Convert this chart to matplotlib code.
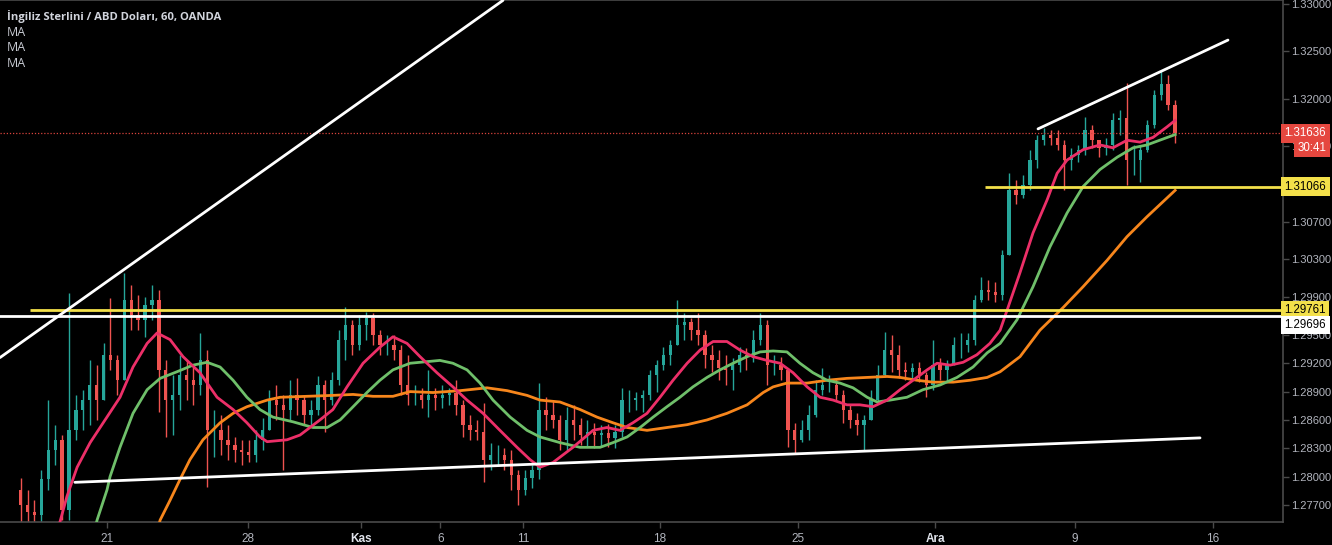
"""
    GBP/USD hourly chart (OANDA) with three moving averages and
    hand drawn support / resistance lines, TradingView dark look.
"""

import numpy as np
import matplotlib
matplotlib.use("Agg")
import matplotlib.pyplot as plt
import matplotlib.transforms as mtransforms


# ---------------- candles (6h bars, x in trading days, 0 = 21 Oct) ----------------
bar_step = 0.25
first_x = -3.125
first_open = 1.2786

highs = [
    1.2799, 1.2786, 1.2775, 1.2807, 1.2881, 1.2855, 1.2844, 1.2994,
    1.2886, 1.2892, 1.2923, 1.2918, 1.2941, 1.2989, 1.2929, 1.3016,
    1.3003, 1.2992, 1.2990, 1.3003, 1.2998, 1.2923, 1.2908, 1.2929,
    1.2923, 1.2918, 1.2952, 1.2934, 1.2871, 1.2865, 1.2855, 1.2842,
    1.2839, 1.2839, 1.2849, 1.2862, 1.2892, 1.2897, 1.2886, 1.2902,
    1.2904, 1.2886, 1.2881, 1.2907, 1.2902, 1.2911, 1.2955, 1.2979,
    1.2966, 1.2971, 1.2974, 1.2973, 1.2955, 1.2950, 1.2950, 1.2939,
    1.2929, 1.2897, 1.2894, 1.2913, 1.2894, 1.2897, 1.2894, 1.2902,
    1.2881, 1.2865, 1.2860, 1.2878, 1.2836, 1.2834, 1.2830, 1.2828,
    1.2807, 1.2807, 1.2812, 1.2899, 1.2884, 1.2881, 1.2865, 1.2874,
    1.2876, 1.2862, 1.2860, 1.2857, 1.2855, 1.2856, 1.2855, 1.2894,
    1.2892, 1.2890, 1.2892, 1.2913, 1.2923, 1.2937, 1.2945, 1.2987,
    1.2973, 1.2968, 1.2973, 1.2955, 1.2939, 1.2934, 1.2929, 1.2926,
    1.2937, 1.2936, 1.2955, 1.2973, 1.2966, 1.2929, 1.2927, 1.2913,
    1.2857, 1.2860, 1.2876, 1.2902, 1.2915, 1.2908, 1.2904, 1.2892,
    1.2876, 1.2867, 1.2865, 1.2892, 1.2918, 1.2953, 1.2950, 1.2939,
    1.2921, 1.2920, 1.2921, 1.2911, 1.2945, 1.2926, 1.2923, 1.2948,
    1.2952, 1.2952, 1.2992, 1.3011, 1.3008, 1.3006, 1.3040, 1.3121,
    1.3114, 1.3119, 1.3146, 1.3162, 1.3169, 1.3167, 1.3167, 1.3156,
    1.3148, 1.3151, 1.3181, 1.3172, 1.3156, 1.3158, 1.3185, 1.3188,
    1.3217, 1.3151, 1.3151, 1.3177, 1.3209, 1.3230, 1.3225, 1.3199,
]

lows = [
    1.2749, 1.2749, 1.2744, 1.2749, 1.2786, 1.2812, 1.2754, 1.2754,
    1.2839, 1.2849, 1.2855, 1.2860, 1.2881, 1.2913, 1.2886, 1.2902,
    1.2955, 1.2955, 1.2948, 1.2966, 1.2868, 1.2842, 1.2844, 1.2871,
    1.2881, 1.2876, 1.2886, 1.2789, 1.2821, 1.2823, 1.2818, 1.2815,
    1.2812, 1.2815, 1.2815, 1.2828, 1.2849, 1.2860, 1.2807, 1.2860,
    1.2865, 1.2855, 1.2855, 1.2865, 1.2847, 1.2876, 1.2897, 1.2923,
    1.2929, 1.2934, 1.2945, 1.2939, 1.2929, 1.2929, 1.2923, 1.2886,
    1.2876, 1.2876, 1.2873, 1.2863, 1.2871, 1.2873, 1.2876, 1.2865,
    1.2842, 1.2839, 1.2839, 1.2794, 1.2807, 1.2812, 1.2807, 1.2786,
    1.2770, 1.2781, 1.2788, 1.2797, 1.2849, 1.2852, 1.2828, 1.2828,
    1.2839, 1.2834, 1.2831, 1.2830, 1.2831, 1.2831, 1.2830, 1.2842,
    1.2868, 1.2871, 1.2868, 1.2881, 1.2890, 1.2913, 1.2918, 1.2939,
    1.2945, 1.2945, 1.2939, 1.2915, 1.2911, 1.2902, 1.2897, 1.2892,
    1.2911, 1.2913, 1.2921, 1.2939, 1.2897, 1.2908, 1.2902, 1.2831,
    1.2825, 1.2837, 1.2839, 1.2863, 1.2886, 1.2890, 1.2881, 1.2857,
    1.2852, 1.2844, 1.2828, 1.2860, 1.2878, 1.2905, 1.2911, 1.2904,
    1.2902, 1.2902, 1.2900, 1.2884, 1.2892, 1.2902, 1.2900, 1.2918,
    1.2926, 1.2932, 1.2939, 1.2985, 1.2987, 1.2985, 1.2987, 1.3035,
    1.3088, 1.3095, 1.3103, 1.3127, 1.3151, 1.3151, 1.3146, 1.3103,
    1.3125, 1.3133, 1.3140, 1.3148, 1.3138, 1.3140, 1.3146, 1.3162,
    1.3109, 1.3119, 1.3112, 1.3144, 1.3169, 1.3199, 1.3188, 1.3153,
]

closes = [
    1.2770, 1.2763, 1.2759, 1.2797, 1.2828, 1.2839, 1.2765, 1.2849,
    1.2871, 1.2881, 1.2897, 1.2881, 1.2929, 1.2923, 1.2902, 1.2987,
    1.2971, 1.2966, 1.2982, 1.2987, 1.2913, 1.2881, 1.2886, 1.2908,
    1.2902, 1.2897, 1.2923, 1.2849, 1.2849, 1.2839, 1.2834, 1.2828,
    1.2826, 1.2823, 1.2839, 1.2849, 1.2881, 1.2876, 1.2871, 1.2886,
    1.2881, 1.2865, 1.2871, 1.2897, 1.2881, 1.2902, 1.2945, 1.2961,
    1.2939, 1.2961, 1.2968, 1.2950, 1.2939, 1.2939, 1.2934, 1.2897,
    1.2886, 1.2886, 1.2881, 1.2886, 1.2883, 1.2886, 1.2889, 1.2876,
    1.2855, 1.2849, 1.2847, 1.2818, 1.2823, 1.2823, 1.2818, 1.2802,
    1.2786, 1.2799, 1.2807, 1.2871, 1.2865, 1.2860, 1.2839, 1.2860,
    1.2855, 1.2844, 1.2847, 1.2844, 1.2846, 1.2841, 1.2847, 1.2881,
    1.2881, 1.2883, 1.2886, 1.2908, 1.2918, 1.2929, 1.2939, 1.2961,
    1.2964, 1.2955, 1.2950, 1.2929, 1.2923, 1.2915, 1.2913, 1.2918,
    1.2929, 1.2926, 1.2945, 1.2961, 1.2918, 1.2918, 1.2913, 1.2849,
    1.2839, 1.2849, 1.2865, 1.2892, 1.2897, 1.2897, 1.2886, 1.2871,
    1.2860, 1.2855, 1.2860, 1.2881, 1.2908, 1.2934, 1.2929, 1.2913,
    1.2911, 1.2915, 1.2908, 1.2897, 1.2918, 1.2913, 1.2918, 1.2939,
    1.2939, 1.2945, 1.2987, 1.2998, 1.2995, 1.2992, 1.3035, 1.3103,
    1.3098, 1.3109, 1.3135, 1.3156, 1.3162, 1.3158, 1.3151, 1.3135,
    1.3140, 1.3146, 1.3167, 1.3156, 1.3148, 1.3151, 1.3177, 1.3180,
    1.3135, 1.3135, 1.3146, 1.3172, 1.3204, 1.3215, 1.3193, 1.31636,
]

# ---------------- moving averages ----------------
ma_fast_x = [-1.88, -1.45, -1.08, -0.61, -0.25, 0.47, 0.94, 1.45, 1.81, 2.28,
             2.75, 3.36, 3.98, 4.56, 5.06, 5.53, 5.79, 6.51, 6.98, 7.70,
             8.17, 8.68, 9.26, 9.87, 10.34, 10.85, 11.32, 11.93, 12.51, 13.02,
             13.60, 14.21, 14.83, 15.30, 15.66, 16.13, 16.85, 17.58, 18.08, 18.55,
             19.02, 19.53, 20.00, 20.47, 20.98, 21.45, 21.92, 22.42, 22.89, 23.36,
             23.87, 24.34, 24.81, 25.32, 25.79, 26.26, 26.76, 27.23, 27.70, 28.21,
             28.68, 29.15, 29.66, 30.02, 30.49, 30.96, 31.46, 31.93, 32.30, 32.55,
             33.02, 33.49, 34.00, 34.36, 34.72, 35.30, 35.91, 36.38, 36.89, 37.36,
             37.83, 38.33, 38.63]
ma_fast = [1.2733, 1.2779, 1.2810, 1.2836, 1.2852, 1.2884, 1.2916, 1.2941, 1.2952, 1.2945,
           1.2927, 1.2910, 1.2884, 1.2871, 1.2857, 1.2842, 1.2837, 1.2839, 1.2844, 1.2860,
           1.2871, 1.2895, 1.2920, 1.2937, 1.2948, 1.2941, 1.2927, 1.2910, 1.2895, 1.2881,
           1.2867, 1.2849, 1.2831, 1.2818, 1.2810, 1.2815, 1.2831, 1.2849, 1.2852, 1.2849,
           1.2857, 1.2867, 1.2884, 1.2902, 1.2920, 1.2934, 1.2943, 1.2943, 1.2934, 1.2927,
           1.2923, 1.2920, 1.2910, 1.2895, 1.2884, 1.2881, 1.2876, 1.2876, 1.2874, 1.2881,
           1.2892, 1.2902, 1.2913, 1.2920, 1.2918, 1.2921, 1.2929, 1.2941, 1.2955, 1.2976,
           1.3016, 1.3058, 1.3093, 1.3121, 1.3135, 1.3146, 1.3151, 1.3148, 1.3156, 1.3154,
           1.3159, 1.3170, 1.3177]

ma_mid_x = [-0.54, -0.36, 0.00, 0.11, 0.47, 0.94, 1.45, 1.92, 2.53, 3.11,
            3.62, 4.09, 4.56, 5.06, 5.53, 6.00, 6.73, 7.45, 7.96, 8.43,
            8.90, 9.40, 9.87, 10.34, 10.96, 11.68, 12.04, 12.51, 13.02, 13.49,
            13.96, 14.58, 15.19, 15.66, 16.38, 17.11, 17.83, 18.30, 18.81, 19.28,
            19.75, 20.25, 20.72, 21.19, 21.70, 22.17, 22.64, 23.15, 23.62, 24.09,
            24.59, 25.06, 25.53, 26.04, 26.51, 26.98, 27.49, 27.85, 28.32, 28.93,
            29.51, 30.13, 30.74, 31.32, 31.83, 32.30, 32.91, 33.49, 34.10, 34.72,
            35.30, 35.91, 36.53, 37.11, 37.61, 38.07, 38.63]
ma_mid = [1.2733, 1.2754, 1.2786, 1.2800, 1.2831, 1.2867, 1.2892, 1.2904, 1.2911, 1.2918,
          1.2921, 1.2916, 1.2902, 1.2884, 1.2871, 1.2863, 1.2858, 1.2852, 1.2852, 1.2860,
          1.2874, 1.2889, 1.2902, 1.2913, 1.2920, 1.2922, 1.2923, 1.2920, 1.2913, 1.2899,
          1.2881, 1.2863, 1.2849, 1.2842, 1.2836, 1.2831, 1.2831, 1.2836, 1.2842, 1.2852,
          1.2863, 1.2874, 1.2884, 1.2895, 1.2905, 1.2913, 1.2920, 1.2927, 1.2932, 1.2933,
          1.2932, 1.2920, 1.2910, 1.2902, 1.2899, 1.2894, 1.2884, 1.2879, 1.2881, 1.2884,
          1.2892, 1.2897, 1.2905, 1.2916, 1.2931, 1.2941, 1.2966, 1.3001, 1.3043, 1.3079,
          1.3107, 1.3125, 1.3138, 1.3148, 1.3151, 1.3156, 1.3162]

ma_slow_x = [1.74, 1.92, 2.28, 2.64, 3.00, 3.47, 4.09, 4.56, 5.06, 5.79,
             6.26, 7.23, 8.17, 8.90, 9.62, 10.34, 10.96, 11.79, 12.77, 13.74,
             14.47, 15.19, 15.66, 16.38, 17.11, 17.72, 18.30, 18.81, 19.53, 20.25,
             20.98, 21.70, 22.42, 23.15, 23.73, 24.09, 24.59, 25.32, 26.04, 26.76,
             27.49, 28.21, 28.68, 29.29, 29.87, 30.60, 31.21, 31.83, 32.30, 33.02,
             33.74, 34.58, 35.30, 36.17, 36.89, 37.61, 38.63]
ma_slow = [1.2733, 1.2754, 1.2775, 1.2797, 1.2818, 1.2839, 1.2857, 1.2867, 1.2874, 1.2881,
           1.2884, 1.2885, 1.2886, 1.2887, 1.2885, 1.2885, 1.2890, 1.2889, 1.2891, 1.2894,
           1.2891, 1.2886, 1.2881, 1.2879, 1.2871, 1.2863, 1.2857, 1.2852, 1.2849, 1.2852,
           1.2855, 1.2860, 1.2867, 1.2876, 1.2889, 1.2895, 1.2899, 1.2899, 1.2902, 1.2904,
           1.2905, 1.2906, 1.2905, 1.2902, 1.2900, 1.2900, 1.2902, 1.2905, 1.2911, 1.2927,
           1.2955, 1.2979, 1.3001, 1.3029, 1.3054, 1.3075, 1.3103]

# ---------------- drawn levels / trend lines ----------------
level_white = 1.29696
level_yellow_low = 1.29761
level_yellow_high = 1.31066
last_price = 1.31636

trend_up_x, trend_up_y = [-3.87, 14.32], [1.2926, 1.3304]
trend_floor_x, trend_floor_y = [-1.16, 39.53], [1.2794, 1.2841]
trend_top_x, trend_top_y = [33.67, 40.54], [1.3168, 1.3262]

price_ticks = [1.277, 1.280, 1.283, 1.286, 1.289, 1.292, 1.295, 1.299,
               1.303, 1.307, 1.315, 1.320, 1.325, 1.330]
day_ticks = [0, 5.1, 9.2, 12.05, 15.05, 20, 25, 29.95, 35, 40]
day_labels = ["21", "28", "Kas", "6", "11", "18", "25", "Ara", "9", "16"]


UP = "#26a69a"
DOWN = "#ef5350"
GRID_TXT = "#b2b5be"
AXIS = "#4a4a4a"
YELLOW = "#f3e04a"
FONT = "Liberation Sans"


def draw_candles(ax):
    """
        Wicks as vlines, bodies as bars.
    """
    n = len(closes)
    x = first_x + bar_step * np.arange(n)
    c = np.array(closes)
    o = np.array([first_open] + closes[:-1])
    colors = np.where(c >= o, UP, DOWN)
    ax.vlines(x, lows, highs, colors=colors, linewidth=1.0, zorder=2)
    body = np.maximum(np.abs(c - o), 0.00004)
    ax.bar(x, body, bottom=np.minimum(o, c), width=0.12, color=colors,
           linewidth=0, zorder=2)


def price_box(ax, y, text, fc, tc, x=1.0012):
    trans = mtransforms.blended_transform_factory(ax.transAxes, ax.transData)
    ax.text(x, y, text, transform=trans, ha="left", va="center",
            fontsize=8.3, family=FONT, color=tc, clip_on=False, zorder=10,
            bbox=dict(boxstyle="square,pad=0.3", fc=fc, ec="none"))


def main():
    fig = plt.figure(figsize=(13.32, 5.45), dpi=100, facecolor="black")
    ax = fig.add_axes([0, 23 / 545, 1283 / 1332, 522 / 545])
    ax.set_facecolor("black")
    ax.set_xlim(-3.87, 42.53)
    ax.set_ylim(1.27520, 1.33044)

    draw_candles(ax)

    ax.plot(ma_slow_x, ma_slow, color="#f7861c", lw=2, zorder=4)
    ax.plot(ma_mid_x, ma_mid, color="#6fbf6a", lw=2, zorder=4)
    ax.plot(ma_fast_x, ma_fast, color="#ec2f68", lw=2, zorder=4)

    # levels
    ax.axhline(level_white, color="white", lw=2, zorder=5)
    ax.hlines(level_yellow_low, -2.78, 42.53, color=YELLOW, lw=2, zorder=5)
    ax.hlines(level_yellow_high, 31.75, 42.53, color=YELLOW, lw=2, zorder=5)
    ax.axhline(last_price, color="#d8433d", lw=0.9, ls=(0, (1, 1.5)), zorder=3)

    # trend lines
    for tx, ty in [(trend_up_x, trend_up_y), (trend_floor_x, trend_floor_y),
                   (trend_top_x, trend_top_y)]:
        ax.plot(tx, ty, color="white", lw=2, zorder=5, solid_capstyle="round")

    # axes look
    ax.spines["left"].set_visible(False)
    for side in ["right", "bottom", "top"]:
        ax.spines[side].set_color(AXIS)
        ax.spines[side].set_linewidth(1.2)

    ax.yaxis.tick_right()
    ax.set_yticks(price_ticks)
    ax.set_yticklabels(["%.5f" % p for p in price_ticks], family=FONT)
    ax.tick_params(axis="y", colors=AXIS, labelcolor=GRID_TXT, labelsize=8,
                   length=4, width=1, pad=2)
    ax.set_xticks(day_ticks)
    ax.set_xticklabels(day_labels, family=FONT)
    ax.tick_params(axis="x", colors=AXIS, labelcolor=GRID_TXT, labelsize=8.5,
                   length=4, width=1, pad=4)
    for lab in ax.get_xticklabels():
        if lab.get_text() in ("Kas", "Ara"):
            lab.set_fontweight("bold")
            lab.set_color("#e0e3eb")

    # price labels on the scale
    price_box(ax, last_price, "1.31636", "#e5473f", "white")
    price_box(ax, 1.3148, "30:41", "#e5473f", "white", x=1.0115)
    price_box(ax, level_yellow_high, "1.31066", YELLOW, "black")
    price_box(ax, level_yellow_low, "1.29761", YELLOW, "black")
    price_box(ax, 1.29605, "1.29696", "white", "black")

    # legend texts
    fig.text(7 / 1332, 1 - 16 / 545, "İngiliz Sterlini / ABD Doları, 60, OANDA",
             fontsize=8.1, fontweight="bold", color="#d1d4dc", family="Open Sans",
             va="center")
    for yy in [32, 47, 63]:
        fig.text(7 / 1332, 1 - yy / 545, "MA", fontsize=9, color="#c8cbd3",
                 family="Open Sans", va="center")

    fig.savefig("out.png", dpi=100, facecolor="black")


if __name__ == "__main__":
    main()
